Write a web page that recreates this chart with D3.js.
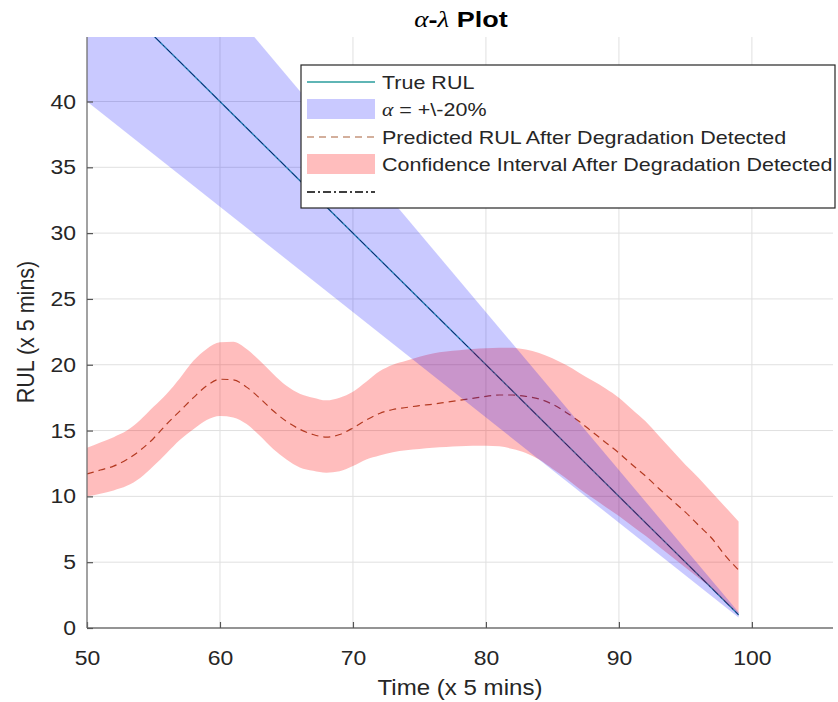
<!DOCTYPE html>
<html>
<head>
<meta charset="utf-8">
<script src="https://cdn.jsdelivr.net/npm/d3@7"></script>
<style>
  body { margin: 0; background: #fff; }
  svg { display: block; }
</style>
</head>
<body>
<svg id="chart" width="838" height="702"></svg>
<script>
// ---- data ----
const time = [50,51,52,53,54,55,56,57,58,59,60,61,62,63,64,65,66,67,68,69,70,71,72,73,74,
              75,76,77,78,79,80,81,82,83,84,85,86,87,88,89,90,91,92,93,94,95,96,97,98,99];

const predictedRUL = [11.7,12.0,12.3,12.8,13.5,14.4,15.5,16.5,17.5,18.4,18.9,18.85,18.3,17.45,16.5,
                      15.7,15.1,14.7,14.5,14.7,15.2,15.8,16.3,16.6,16.75,16.9,17.0,17.15,17.3,17.45,
                      17.6,17.7,17.7,17.6,17.4,17.0,16.4,15.7,14.9,14.1,13.3,12.4,11.55,10.6,9.7,
                      8.8,7.8,6.8,5.5,4.4];

const ciUpper = [13.7,14.1,14.5,15.0,15.8,16.8,17.8,19.0,20.3,21.2,21.7,21.75,21.2,20.3,19.3,
                 18.4,17.8,17.5,17.3,17.5,17.95,18.7,19.5,20.0,20.3,20.6,20.85,21.0,21.1,21.2,
                 21.25,21.3,21.3,21.15,20.9,20.5,20.0,19.4,18.8,18.2,17.5,16.6,15.7,14.6,13.5,
                 12.4,11.4,10.3,9.2,8.1];

const ciLower = [10.0,10.2,10.45,10.8,11.4,12.3,13.3,14.3,15.1,15.8,16.1,16.0,15.5,14.6,13.6,
                 12.8,12.2,11.95,11.8,11.9,12.3,12.8,13.1,13.35,13.5,13.6,13.7,13.75,13.8,13.85,
                 13.85,13.8,13.6,13.3,12.8,12.1,11.4,10.6,9.9,9.2,8.5,7.75,7.0,6.2,5.4,
                 4.6,3.8,3.0,2.0,1.1];

// true RUL and its +/-20% cone (straight lines between the end points)
const trueTime   = [50, 99];
const trueRUL    = [50, 1];
const alphaUpper = [60, 1.2];
const alphaLower = [40, 0.8];

const xTicks = [50, 60, 70, 80, 90, 100];
const yTicks = [0, 5, 10, 15, 20, 25, 30, 35, 40];

const legendLabels = ["True RUL", "α = +\\-20%", "Predicted RUL After Degradation Detected",
                      "Confidence Interval After Degradation Detected", ""];

// ---- layout ----
const plot = { left: 87, right: 833, top: 37, bottom: 628 };
const SANS = "'Liberation Sans', Arial, Helvetica, sans-serif";
const SERIF = "'Liberation Serif', 'Times New Roman', serif";
const SX = 1.12;           // horizontal text stretch
const textCol = "#262626";

const svg = d3.select("#chart");

const x = d3.scaleLinear().domain([50, 106.1]).range([plot.left, plot.right]);
const y = d3.scaleLinear().domain([0, 44.9]).range([plot.bottom, plot.top]);

svg.append("defs").append("clipPath").attr("id", "plotClip")
  .append("rect")
  .attr("x", plot.left).attr("y", plot.top)
  .attr("width", plot.right - plot.left).attr("height", plot.bottom - plot.top);

// grid
const grid = svg.append("g").attr("stroke", "#e0e0e0").attr("stroke-width", 1);
grid.selectAll("line.gx").data(xTicks.filter(d => d > 50)).join("line")
  .attr("x1", d => x(d)).attr("x2", d => x(d))
  .attr("y1", plot.top).attr("y2", plot.bottom);
grid.selectAll("line.gy").data(yTicks.filter(d => d > 0)).join("line")
  .attr("x1", plot.left).attr("x2", plot.right)
  .attr("y1", d => y(d)).attr("y2", d => y(d));

const g = svg.append("g").attr("clip-path", "url(#plotClip)");

const idx2 = [0, 1];
const line = d3.line().x(d => x(d[0])).y(d => y(d[1]));

// true RUL (teal) with dash-dot overlay
g.append("path")
  .attr("d", line(idx2.map(i => [trueTime[i], trueRUL[i]])))
  .attr("fill", "none").attr("stroke", "#2a9c9c").attr("stroke-width", 1.4);
g.append("path")
  .attr("d", line(idx2.map(i => [trueTime[i], trueRUL[i]])))
  .attr("fill", "none").attr("stroke", "#101030").attr("stroke-width", 1)
  .attr("stroke-dasharray", "8,3,2,3").attr("opacity", 0.8);

// predicted RUL (dashed)
const smooth = d3.line().curve(d3.curveMonotoneX).x(d => x(d[0])).y(d => y(d[1]));
g.append("path")
  .attr("d", smooth(time.map((t, i) => [t, predictedRUL[i]])))
  .attr("fill", "none").attr("stroke", "#9a4f2e").attr("stroke-width", 1.2)
  .attr("stroke-dasharray", "7,5");

// confidence interval band
const ciArea = d3.area().curve(d3.curveMonotoneX)
  .x((d, i) => x(time[i])).y0((d, i) => y(ciLower[i])).y1((d, i) => y(ciUpper[i]));
g.append("path").attr("d", ciArea(time))
  .attr("fill", "#ff0000").attr("fill-opacity", 0.26);

// alpha cone
const coneArea = d3.area()
  .x((d, i) => x(trueTime[i])).y0((d, i) => y(alphaLower[i])).y1((d, i) => y(alphaUpper[i]));
g.append("path").attr("d", coneArea(idx2))
  .attr("fill", "#0000ff").attr("fill-opacity", 0.21);

// axes
const xAxis = d3.axisBottom(x).tickValues(xTicks).tickSizeInner(-6).tickSizeOuter(0).tickPadding(22);
const yAxis = d3.axisLeft(y).tickValues(yTicks).tickSizeInner(-6).tickSizeOuter(0).tickPadding(11);

const gx = svg.append("g").attr("transform", `translate(0,${plot.bottom})`).call(xAxis);
const gy = svg.append("g").attr("transform", `translate(${plot.left},0)`).call(yAxis);

[gx, gy].forEach(a => {
  a.select(".domain").attr("stroke", "#707070").attr("stroke-width", 1.3);
  a.selectAll(".tick line").attr("stroke", "#555").attr("stroke-width", 1.2);
  a.selectAll(".tick text").attr("fill", textCol).attr("font-family", SANS).attr("font-size", 20.5);
});
gx.selectAll(".tick text").attr("transform", `scale(${SX},1)`);
gy.selectAll(".tick text").attr("transform", `scale(${SX},1)`).attr("x", -11 / SX);
gx.select(".domain").attr("d", `M${plot.left},0H${plot.right}`);
gy.select(".domain").attr("d", `M0,${plot.top}V${plot.bottom}`);

// axis labels
svg.append("text")
  .attr("transform", `translate(460,695) scale(${SX},1)`)
  .attr("font-family", SANS).attr("font-size", 21.5).attr("fill", textCol)
  .attr("text-anchor", "middle").text("Time (x 5 mins)");
svg.append("text")
  .attr("transform", `translate(34,332) rotate(-90) scale(1,${SX})`)
  .attr("font-family", SANS).attr("font-size", 21.5).attr("fill", textCol)
  .attr("text-anchor", "middle").text("RUL (x 5 mins)");

// title
const title = svg.append("text")
  .attr("transform", `translate(461,27) scale(1.2,1)`)
  .attr("text-anchor", "middle").attr("fill", "#000").attr("font-size", 22.5);
title.append("tspan").attr("font-family", SERIF).attr("font-style", "italic").text("α");
title.append("tspan").attr("font-family", SANS).attr("font-weight", "bold").text("-");
title.append("tspan").attr("font-family", SERIF).attr("font-style", "italic").text("λ");
title.append("tspan").attr("font-family", SANS).attr("font-weight", "bold").text(" Plot");

// legend
const leg = svg.append("g");
const box = { x: 301, y: 65, w: 534, h: 143 };
leg.append("rect").attr("x", box.x).attr("y", box.y).attr("width", box.w).attr("height", box.h)
  .attr("fill", "#fff").attr("stroke", "#262626").attr("stroke-width", 1.2);
const rowY = [82, 109, 137, 164, 192];
const sx0 = 307, sx1 = 375, tx = 382;

leg.append("line").attr("x1", sx0).attr("x2", sx1).attr("y1", rowY[0]).attr("y2", rowY[0])
  .attr("stroke", "#2a9c9c").attr("stroke-width", 1.3);
leg.append("rect").attr("x", sx0).attr("y", rowY[1] - 10).attr("width", sx1 - sx0).attr("height", 20)
  .attr("fill", "#0000ff").attr("fill-opacity", 0.21);
leg.append("line").attr("x1", sx0).attr("x2", sx1).attr("y1", rowY[2]).attr("y2", rowY[2])
  .attr("stroke", "#a8603a").attr("stroke-width", 1.2).attr("stroke-dasharray", "7,5");
leg.append("rect").attr("x", sx0).attr("y", rowY[3] - 10).attr("width", sx1 - sx0).attr("height", 20)
  .attr("fill", "#ff0000").attr("fill-opacity", 0.26);
leg.append("line").attr("x1", sx0).attr("x2", sx1).attr("y1", rowY[4]).attr("y2", rowY[4])
  .attr("stroke", "#000").attr("stroke-width", 1.3).attr("stroke-dasharray", "8,3,2,3");

legendLabels.forEach((lab, i) => {
  if (!lab) return;
  const t = leg.append("text")
    .attr("transform", `translate(${tx},${rowY[i] + 7}) scale(${SX},1)`)
    .attr("font-family", SANS).attr("font-size", 19.2).attr("fill", textCol);
  if (lab.startsWith("α")) {
    t.append("tspan").attr("font-family", SERIF).attr("font-style", "italic").text("α");
    t.append("tspan").text(lab.slice(1));
  } else {
    t.text(lab);
  }
});
</script>
</body>
</html>
